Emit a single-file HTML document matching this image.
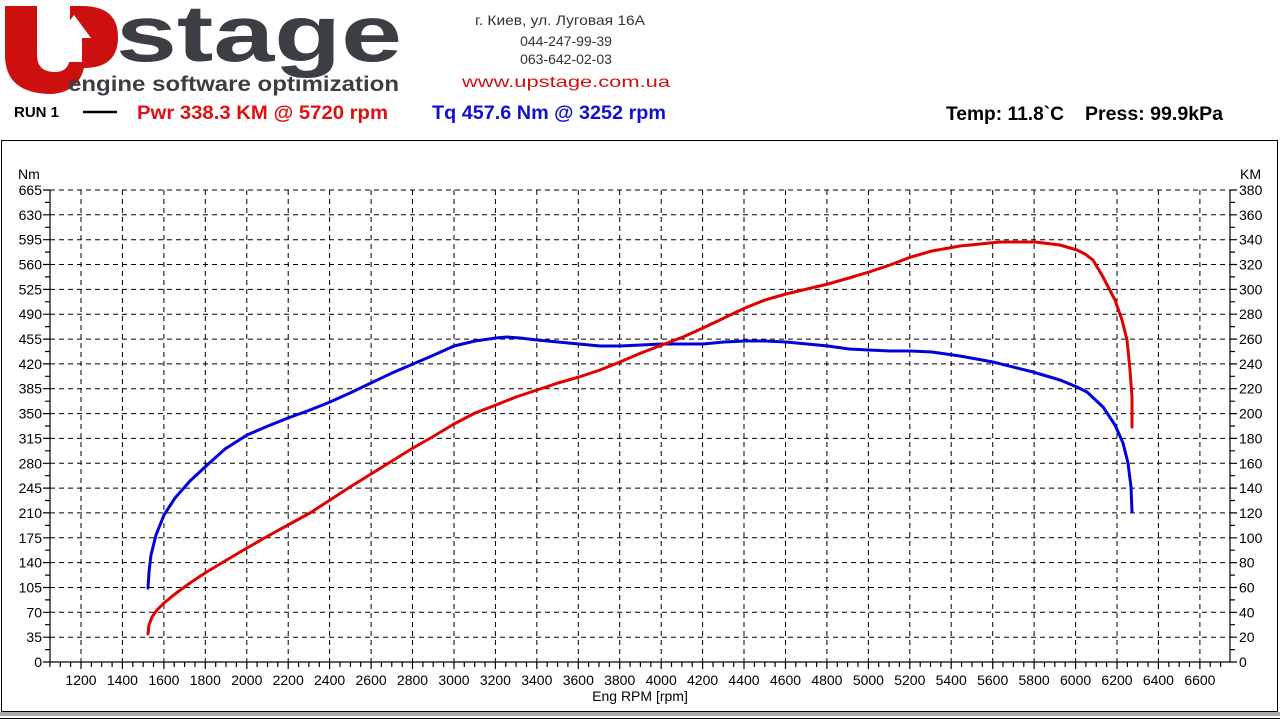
<!DOCTYPE html>
<html><head><meta charset="utf-8"><style>
html,body{margin:0;padding:0;background:#fff;width:1280px;height:720px;overflow:hidden}
svg{display:block}
text{font-family:"Liberation Sans",Arial,sans-serif}
</style></head><body>
<svg id="s" width="1280" height="720" viewBox="0 0 1280 720" xmlns="http://www.w3.org/2000/svg">
<!-- logo -->
<path d="M5,6 H37 V55 Q37,72 55,72 Q70,72 70,55 V6 H82 Q118,6 118,37 Q118,68 84,68 Q78,92 52,94 Q5,94 5,55 Z" fill="#cc1010"/>
<path d="M66,62 V38 H57 L74,15 L91,38 H82 V62 Z" fill="#fff"/>
<text x="116" y="61" font-size="80" font-weight="bold" fill="#3b3e43" textLength="286" lengthAdjust="spacingAndGlyphs">stage</text>
<text x="68" y="91" font-size="21" font-weight="bold" fill="#3b3e43" textLength="331" lengthAdjust="spacingAndGlyphs">engine software optimization</text>
<!-- address -->
<g font-size="14" fill="#333" text-anchor="middle">
<text x="560" y="25" textLength="170" lengthAdjust="spacingAndGlyphs">г. Киев, ул. Луговая 16А</text>
<text x="566" y="46">044-247-99-39</text>
<text x="566" y="64">063-642-02-03</text>
</g>
<text x="566" y="87" font-size="16" fill="#d01010" text-anchor="middle" textLength="208" lengthAdjust="spacingAndGlyphs">www.upstage.com.ua</text>
<!-- header line -->
<text x="14" y="117" font-size="15" font-weight="bold" fill="#000">RUN 1</text>
<line x1="83" y1="112" x2="117" y2="112" stroke="#000" stroke-width="2.5"/>
<text x="137" y="119" font-size="19" font-weight="bold" fill="#e01010" textLength="251" lengthAdjust="spacingAndGlyphs">Pwr  338.3 KM @ 5720 rpm</text>
<text x="432" y="119" font-size="19" font-weight="bold" fill="#1010d0" textLength="234" lengthAdjust="spacingAndGlyphs">Tq 457.6 Nm @ 3252 rpm</text>
<text x="946" y="120" font-size="19" font-weight="bold" fill="#000" textLength="118" lengthAdjust="spacingAndGlyphs">Temp: 11.8`C</text>
<text x="1085" y="120" font-size="19" font-weight="bold" fill="#000" textLength="138" lengthAdjust="spacingAndGlyphs">Press: 99.9kPa</text>
<!-- frame -->
<rect x="1.5" y="140.5" width="1276" height="571" fill="none" stroke="#000" stroke-width="1"/>
<rect x="0" y="712" width="1280" height="4" fill="#aaa"/>
<line x1="0" y1="718.5" x2="1280" y2="718.5" stroke="#000"/>
<g id="grid"></g>
<text x="18" y="179" font-size="14" fill="#000">Nm</text>
<text x="1240" y="179" font-size="14" fill="#000">KM</text>
<text x="640" y="701" font-size="14" fill="#000" text-anchor="middle">Eng RPM [rpm]</text>
<!-- curves -->
<path fill="none" stroke="#0000dd" stroke-width="3" stroke-linejoin="round" stroke-linecap="round" d="M148,588 L149,572 L151,555 L156,535 L164,515 L175,498 L190,481 L205,467 L225,449 L247,435 L268,426 L288,418 L310,410 L330,402 L350,393 L371,383 L392,373 L413,364 L434,355 L454,346 L475,341 L496,338 L507,337 L520,338 L537,340 L558,342 L579,344 L600,346 L620,346 L641,345 L662,344 L683,344 L703,344 L724,342 L745,341 L765,341 L786,342 L807,344 L828,346 L849,349 L869,350 L890,351 L911,351 L932,352 L960,356 L993,362 L1033,372 L1060,380 L1077,387 L1087,392 L1103,407 L1115,425 L1123,443 L1128,463 L1131,487 L1132,512"/>
<path fill="none" stroke="#e00000" stroke-width="3" stroke-linejoin="round" stroke-linecap="round" d="M148,634 L149,625 L152,617 L157,610 L164,603 L175,594 L190,583 L205,573 L225,561 L247,548 L268,536 L288,525 L310,513 L330,500 L350,487 L371,474 L392,461 L413,448 L434,436 L454,424 L475,413 L496,405 L516,397 L537,390 L558,383 L579,377 L600,370 L620,362 L641,353 L662,345 L683,337 L703,328 L724,318 L745,308 L765,300 L786,294 L807,289 L828,284 L849,278 L869,272 L890,265 L911,257 L932,251 L960,246 L1000,242 L1035,242 L1060,245 L1077,250 L1085,254 L1093,260 L1103,277 L1115,300 L1122,320 L1127,340 L1130,370 L1132,397 L1132,427"/>
</svg>
<script>
(function(){
var g=document.getElementById('grid'),h='';
var L=50,R=1230,T=190,B=662;
function X(r){return 81+(r-1200)*41.44/200;}
function Y(k){return B-k*24.842;}
var d='';
for(var k=1;k<=19;k++){var y=Y(k).toFixed(1);d+='M'+L+','+y+'H'+R;}
for(var r=1200;r<=6600;r+=200){var x=X(r).toFixed(1);d+='M'+x+','+T+'V'+B;}
h+='<path d="'+d+'" stroke="#000" stroke-width="1" stroke-dasharray="5,4" fill="none"/>';
var t='M'+L+','+T+'V'+B+'H'+R+'V'+T;
for(var k=0;k<=38;k++){var y=(B-k*12.421).toFixed(1);var w=(k%2==0)?7:5;t+='M'+(L-w)+','+y+'H'+L+'M'+R+','+y+'H'+(R+w);}
for(var r=1050;r<=6745;r+=50){var x=X(r).toFixed(1);var w=(r%200==0)?7:5;t+='M'+x+','+B+'V'+(B+w);}
h+='<path d="'+t+'" stroke="#000" stroke-width="1.2" fill="none"/>';
for(var k=0;k<=19;k++){var y=Y(k)+5;h+='<text x="42" y="'+y.toFixed(1)+'" font-size="14" text-anchor="end">'+(k*35)+'</text>';h+='<text x="1239" y="'+y.toFixed(1)+'" font-size="14">'+(k*20)+'</text>';}
for(var r=1200;r<=6600;r+=200){h+='<text x="'+X(r).toFixed(1)+'" y="685" font-size="14" text-anchor="middle">'+r+'</text>';}
g.innerHTML=h;
})();
</script>
</body></html>
